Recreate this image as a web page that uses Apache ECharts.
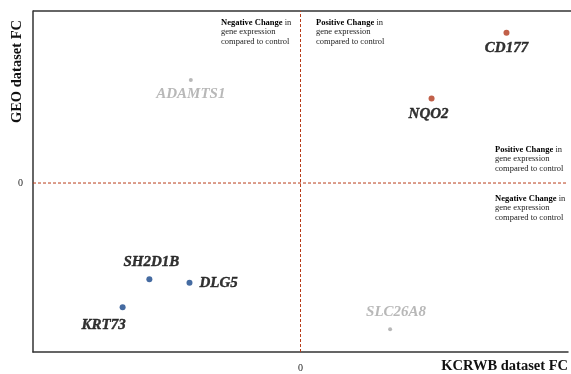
<!DOCTYPE html>
<html>
<head>
<meta charset="utf-8">
<script src="https://cdn.jsdelivr.net/npm/echarts@6/dist/echarts.min.js"></script>
<style>
  html, body { margin: 0; padding: 0; background: #fff; }
  #chart { width: 571px; height: 374px; }
</style>
</head>
<body>
<div id="chart"></div>
<script>
// Genes and their fold changes in the two datasets
const genes   = ['CD177', 'NQO2', 'ADAMTS1', 'SH2D1B', 'DLG5', 'KRT73', 'SLC26A8'];
const kcrwbFC = [0.77, 0.49, -0.41, -0.565, -0.415, -0.665, 0.335];
const geoFC   = [0.89, 0.50, 0.61, -0.57, -0.59, -0.735, -0.865];
// 'up' = up in both, 'down' = down in both, 'mixed' = discordant
const groups  = ['up', 'up', 'mixed', 'down', 'down', 'down', 'mixed'];
const tickLabels = ['0'];
// axis extents
const xRange = [-1, 1];
const yRange = [-1, 1.018];

const serif = '"Liberation Serif", "Times New Roman", serif';
const groupStyle = {
  up:    { color: '#b2381c', size: 6, text: '#000', stroke: 0.4 },
  down:  { color: '#17468a', size: 6, text: '#000', stroke: 0.4 },
  mixed: { color: '#a6a6a6', size: 4, text: '#a6a6a6', stroke: 0 }
};
// where each gene's name sits relative to its point
const labelPlacement = {
  CD177:   { position: 'bottom', offset: [0, 0] },
  NQO2:    { position: 'bottom', offset: [-3, 0] },
  ADAMTS1: { position: 'bottom', offset: [0, 0] },
  SH2D1B:  { position: 'top',    offset: [2, -2] },
  DLG5:    { position: 'right',  offset: [2, 0] },
  KRT73:   { position: 'bottom', offset: [-19, 2] },
  SLC26A8: { position: 'top',    offset: [6, -3] }
};

const points = genes.map((g, i) => {
  const s = groupStyle[groups[i]];
  const p = labelPlacement[g];
  return {
    name: g,
    value: [kcrwbFC[i], geoFC[i]],
    symbolSize: s.size,
    itemStyle: { color: s.color },
    label: {
      show: true,
      formatter: g,
      position: p.position,
      offset: p.offset,
      distance: 5,
      color: s.text,
      textBorderColor: s.text,
      textBorderWidth: s.stroke,
      fontFamily: serif,
      fontStyle: 'italic',
      fontWeight: 'bold',
      fontSize: 15
    }
  };
});

// Quadrant notes: bold heading followed by plain text
function note(x, y, kind) {
  return {
    type: 'text',
    left: x, top: y,
    style: {
      text: '{b|' + kind + ' Change} in\ngene expression\ncompared to control',
      font: '8.5px ' + serif,
      fill: '#222',
      lineHeight: 9.5,
      rich: { b: { fontWeight: 'bold', fontSize: 8.5, fontFamily: serif, fill: '#000' } }
    }
  };
}

// dashed zero reference line through the plot
function zeroLine(data) {
  return {
    type: 'line',
    data: data,
    symbol: 'none',
    silent: true,
    z: 1,
    lineStyle: { color: '#b83c1a', type: [3, 2], width: 1 }
  };
}

const chart = echarts.init(document.getElementById('chart'));
chart.setOption({
  animation: false,
  grid: { left: 33, right: 0, top: 11, bottom: 22, containLabel: false },
  xAxis: {
    type: 'value', min: xRange[0], max: xRange[1], interval: 1,
    axisLine: { onZero: false, lineStyle: { color: '#333', width: 1.5 } },
    axisTick: { show: false },
    splitLine: { show: false },
    axisLabel: {
      margin: 11, color: '#222', fontFamily: serif, fontSize: 10,
      formatter: v => (tickLabels.includes(String(v)) ? String(v) : '')
    }
  },
  yAxis: {
    type: 'value', min: yRange[0], max: yRange[1], interval: 1,
    axisLine: { onZero: false, show: true, lineStyle: { color: '#333', width: 1.5 } },
    axisTick: { show: false },
    splitLine: { show: false },
    axisLabel: {
      margin: 10, color: '#222', fontFamily: serif, fontSize: 10,
      formatter: v => (tickLabels.includes(String(v)) ? String(v) : '')
    }
  },
  series: [
    zeroLine([[0, yRange[0]], [0, yRange[1]]]),
    zeroLine([[xRange[0], 0], [xRange[1], 0]]),
    {
      type: 'scatter',
      symbol: 'circle',
      z: 3,
      data: points
    }
  ],
  graphic: [
    // top border of the frame
    { type: 'line', shape: { x1: 33, y1: 11, x2: 571, y2: 11 },
      style: { stroke: '#333', lineWidth: 1.5 } },
    {
      type: 'text', left: 10, top: 20, rotation: Math.PI / 2,
      style: { text: 'GEO dataset FC', font: 'bold 14.5px ' + serif, fill: '#111' }
    },
    {
      type: 'text', right: 3, top: 359,
      style: { text: 'KCRWB dataset FC', font: 'bold 14.5px ' + serif, fill: '#111' }
    },
    note(221, 18, 'Negative'),
    note(316, 18, 'Positive'),
    note(495, 145, 'Positive'),
    note(495, 194, 'Negative')
  ]
});
</script>
</body>
</html>
